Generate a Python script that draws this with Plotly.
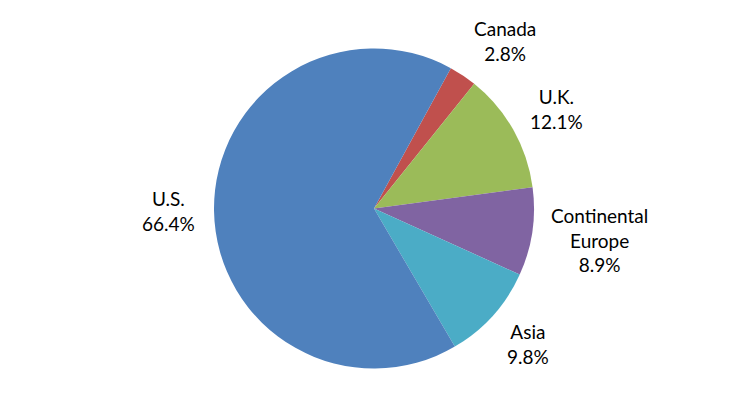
import math
import plotly.graph_objects as go

regions = ["Canada", "U.K.", "Continental<br>Europe", "Asia", "U.S."]
shares = [2.8, 12.1, 8.9, 9.8, 66.4]
colors = ["#C0504D", "#9BBB59", "#8064A2", "#4BACC6", "#4F81BD"]

W, H = 748, 419
# page body has an 8px margin, so the plot is placed in figure coordinates
cx, cy, r = 366, 200.5, 160
start_angle = 28.7
font_size = 19
line_h = font_size * 1.3

fig = go.Figure(go.Pie(
    labels=regions,
    values=shares,
    sort=False,
    direction="clockwise",
    rotation=start_angle,
    marker=dict(colors=colors, line=dict(width=0)),
    textinfo="none",
    showlegend=False,
    hoverinfo="label+value",
    domain=dict(x=[(cx - r) / W, (cx + r) / W], y=[1 - (cy + r) / H, 1 - (cy - r) / H]),
))

# outside labels placed around each slice's mid-angle
total = sum(shares)
acc = start_angle
gap = 17
for lab, v in zip(regions, shares):
    span = v / total * 360
    mid = math.radians(acc + span / 2)
    acc += span
    s, c = math.sin(mid), math.cos(mid)
    text = f"{lab}<br>{v:.1f}%"
    n_lines = text.count("<br>") + 1
    px = cx + (r + gap) * s
    py = cy - (r + gap + n_lines * line_h / 2) * c
    xanchor = "left" if s > 0.5 else ("right" if s < -0.5 else "center")
    fig.add_annotation(
        x=px / W, y=1 - py / H, xref="paper", yref="paper",
        text=text, showarrow=False,
        xanchor=xanchor, yanchor="middle", align="center",
        font=dict(family="Lato", size=font_size, color="#000000"),
    )

fig.update_layout(
    width=W, height=H,
    margin=dict(l=0, r=0, t=0, b=0),
    paper_bgcolor="white",
    plot_bgcolor="white",
)
fig.write_html("out.html")
